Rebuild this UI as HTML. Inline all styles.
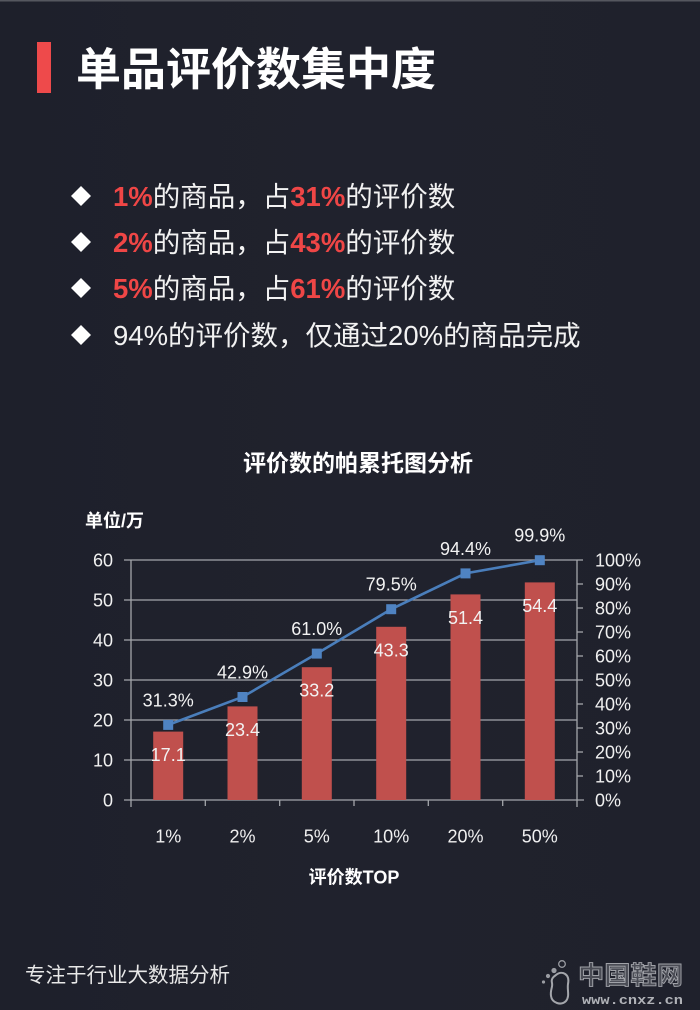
<!DOCTYPE html>
<html><head><meta charset="utf-8">
<style>
html,body{margin:0;padding:0;background:#1f212c;}
body{width:700px;height:1010px;overflow:hidden;position:relative;}
svg{display:block;}
</style></head>
<body>
<svg width="700" height="1010" viewBox="0 0 700 1010" xmlns="http://www.w3.org/2000/svg" font-family="'Liberation Sans','Noto Sans CJK SC',sans-serif">
  <defs>
    <linearGradient id="bg" x1="0" y1="0" x2="1" y2="0">
      <stop offset="0" stop-color="#1e202b"/>
      <stop offset="0.5" stop-color="#20222d"/>
      <stop offset="1" stop-color="#1f212c"/>
    </linearGradient>
  </defs>
  <rect width="700" height="1010" fill="url(#bg)"/>
  <rect x="0" y="0" width="700" height="1.5" fill="#55575f"/>

  <!-- Header -->
  <rect x="37" y="42" width="14" height="51" fill="#ee4a4b"/>
  <text x="76" y="85" font-size="45" font-weight="bold" fill="#ffffff">单品评价数集中度</text>

  <!-- Bullets -->
  <g fill="#ffffff">
    <polygon points="81,186 91,196 81,206 71,196"/>
    <polygon points="81,232 91,242 81,252 71,242"/>
    <polygon points="81,278 91,288 81,298 71,288"/>
    <polygon points="81,325 91,335 81,345 71,335"/>
  </g>
  <g font-size="27.5" fill="#f2f2f2">
    <text x="113" y="206"><tspan fill="#ef4646" font-weight="bold">1%</tspan>的商品，占<tspan fill="#ef4646" font-weight="bold">31%</tspan>的评价数</text>
    <text x="113" y="252"><tspan fill="#ef4646" font-weight="bold">2%</tspan>的商品，占<tspan fill="#ef4646" font-weight="bold">43%</tspan>的评价数</text>
    <text x="113" y="298"><tspan fill="#ef4646" font-weight="bold">5%</tspan>的商品，占<tspan fill="#ef4646" font-weight="bold">61%</tspan>的评价数</text>
    <text x="113" y="345">94%的评价数，仅通过20%的商品完成</text>
  </g>

  <!-- Chart title -->
  <text x="358" y="471" font-size="23" font-weight="bold" fill="#ffffff" text-anchor="middle">评价数的帕累托图分析</text>
  <text x="85" y="527" font-size="18" font-weight="bold" fill="#ffffff">单位/万</text>

  <!-- Gridlines -->
  <g stroke="#a4a6ab" stroke-width="1.3">
    <line x1="124" y1="560" x2="577" y2="560"/>
    <line x1="124" y1="600" x2="577" y2="600"/>
    <line x1="124" y1="640" x2="577" y2="640"/>
    <line x1="124" y1="680" x2="577" y2="680"/>
    <line x1="124" y1="720" x2="577" y2="720"/>
    <line x1="124" y1="760" x2="577" y2="760"/>
    <line x1="124" y1="800" x2="584" y2="800"/>
    <!-- left axis -->
    <line x1="131" y1="560" x2="131" y2="807"/>
    <!-- right axis -->
    <line x1="577" y1="560" x2="577" y2="807"/>
    <!-- right ticks -->
    <line x1="577" y1="560" x2="583" y2="560"/>
    <line x1="577" y1="584" x2="583" y2="584"/>
    <line x1="577" y1="608" x2="583" y2="608"/>
    <line x1="577" y1="632" x2="583" y2="632"/>
    <line x1="577" y1="656" x2="583" y2="656"/>
    <line x1="577" y1="680" x2="583" y2="680"/>
    <line x1="577" y1="704" x2="583" y2="704"/>
    <line x1="577" y1="728" x2="583" y2="728"/>
    <line x1="577" y1="752" x2="583" y2="752"/>
    <line x1="577" y1="776" x2="583" y2="776"/>
    <!-- bottom ticks -->
    <line x1="205.3" y1="800" x2="205.3" y2="806"/>
    <line x1="279.7" y1="800" x2="279.7" y2="806"/>
    <line x1="354" y1="800" x2="354" y2="806"/>
    <line x1="428.3" y1="800" x2="428.3" y2="806"/>
    <line x1="502.7" y1="800" x2="502.7" y2="806"/>
  </g>

  <!-- Bars -->
  <g fill="#c0504d">
    <rect x="153.2" y="731.6" width="30" height="68.4"/>
    <rect x="227.5" y="706.4" width="30" height="93.6"/>
    <rect x="301.8" y="667.2" width="30" height="132.8"/>
    <rect x="376.2" y="626.8" width="30" height="173.2"/>
    <rect x="450.5" y="594.4" width="30" height="205.6"/>
    <rect x="524.8" y="582.4" width="30" height="217.6"/>
  </g>

  <!-- Line -->
  <polyline points="168.2,724.9 242.5,697 316.8,653.6 391.2,609.2 465.5,573.4 539.8,560.2" fill="none" stroke="#4a7ebb" stroke-width="2.6"/>
  <g fill="#4f83c2">
    <rect x="163.2" y="719.9" width="10" height="10"/>
    <rect x="237.5" y="692" width="10" height="10"/>
    <rect x="311.8" y="648.6" width="10" height="10"/>
    <rect x="386.2" y="604.2" width="10" height="10"/>
    <rect x="460.5" y="568.4" width="10" height="10"/>
    <rect x="534.8" y="555.2" width="10" height="10"/>
  </g>

  <!-- Left axis labels -->
  <g font-size="18" fill="#f0f0f0" text-anchor="end">
    <text x="113" y="566.5">60</text>
    <text x="113" y="606.5">50</text>
    <text x="113" y="646.5">40</text>
    <text x="113" y="686.5">30</text>
    <text x="113" y="726.5">20</text>
    <text x="113" y="766.5">10</text>
    <text x="113" y="806.5">0</text>
  </g>
  <!-- Right axis labels -->
  <g font-size="18" fill="#f0f0f0">
    <text x="595" y="566.5">100%</text>
    <text x="595" y="590.5">90%</text>
    <text x="595" y="614.5">80%</text>
    <text x="595" y="638.5">70%</text>
    <text x="595" y="662.5">60%</text>
    <text x="595" y="686.5">50%</text>
    <text x="595" y="710.5">40%</text>
    <text x="595" y="734.5">30%</text>
    <text x="595" y="758.5">20%</text>
    <text x="595" y="782.5">10%</text>
    <text x="595" y="806.5">0%</text>
  </g>

  <!-- Data labels -->
  <g font-size="18" fill="#f2f2f2" text-anchor="middle">
    <text x="168.2" y="706.4">31.3%</text>
    <text x="242.5" y="678.5">42.9%</text>
    <text x="316.8" y="635.1">61.0%</text>
    <text x="391.2" y="590.7">79.5%</text>
    <text x="465.5" y="554.9">94.4%</text>
    <text x="539.8" y="541.7">99.9%</text>
    <text x="168.2" y="761.1">17.1</text>
    <text x="242.5" y="735.9">23.4</text>
    <text x="316.8" y="696.7">33.2</text>
    <text x="391.2" y="656.3">43.3</text>
    <text x="465.5" y="623.9">51.4</text>
    <text x="539.8" y="611.9">54.4</text>
  </g>

  <!-- X labels -->
  <g font-size="18" fill="#f0f0f0" text-anchor="middle">
    <text x="168.2" y="842.5">1%</text>
    <text x="242.5" y="842.5">2%</text>
    <text x="316.8" y="842.5">5%</text>
    <text x="391.2" y="842.5">10%</text>
    <text x="465.5" y="842.5">20%</text>
    <text x="539.8" y="842.5">50%</text>
  </g>
  <text x="354" y="883.5" font-size="18" font-weight="bold" fill="#ffffff" text-anchor="middle">评价数TOP</text>

  <!-- Footer -->
  <text x="25" y="982" font-size="20.5" fill="#e8e8e8">专注于行业大数据分析</text>

  <!-- Logo -->
  <g>
    <circle cx="543.5" cy="982" r="1.6" fill="#9a9ca2"/>
    <circle cx="548" cy="976" r="2.1" fill="#9a9ca2"/>
    <circle cx="554" cy="970.5" r="2.6" fill="#9a9ca2"/>
    <circle cx="562" cy="964" r="3.3" fill="none" stroke="#9a9ca2" stroke-width="1.3"/>
    <path d="M556,975 C562,970 570,974 568,984 C567,990 570,996 566,1001 C561,1006 552,1003 551,996 C550,990 553,987 552,983 C551,979 553,977 556,975 Z" fill="none" stroke="#a4a6ab" stroke-width="2"/>
    <text x="578" y="984" font-size="25" font-weight="bold" fill="#4a4c55" stroke="#a0a2a8" stroke-width="0.9" textLength="105" lengthAdjust="spacingAndGlyphs">中国鞋网</text>
    <text x="582" y="1004" font-family="'Liberation Mono',monospace" font-size="13" font-weight="bold" fill="#b0b2b7" textLength="101" lengthAdjust="spacingAndGlyphs">www.cnxz.cn</text>
  </g>
</svg>
</body></html>
